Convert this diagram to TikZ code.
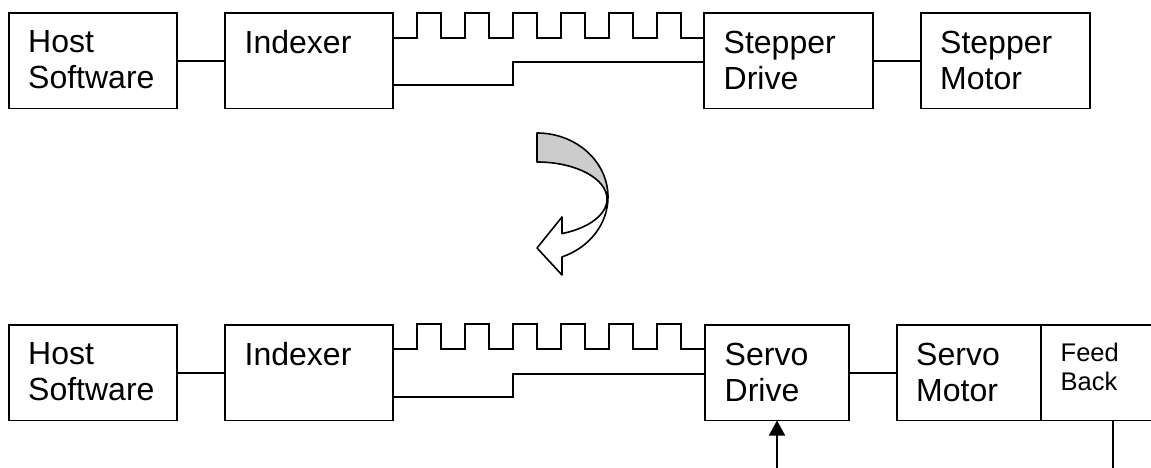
\documentclass[tikz,border=0pt]{standalone}
\usepackage{fontspec}
\setmainfont{Liberation Sans}
\usetikzlibrary{arrows.meta}
\begin{document}
\begin{tikzpicture}[x=1pt,y=-1pt,
  blk/.style={draw, line width=1.8pt, minimum height=95.5pt, inner sep=0pt, outer sep=0pt, anchor=north west},
  lbl/.style={anchor=north west, inner sep=0pt, align=left, font=\fontsize{32}{36}\selectfont},
  smalllbl/.style={anchor=north west, inner sep=0pt, align=left, font=\fontsize{25.5}{29}\selectfont},
  wire/.style={line width=1.6pt},
]
\clip (0,0) rectangle (1151,468);
% ---------- top row ----------
\node[blk, minimum width=168pt] (hs1) at (9,13) {};
\node[blk, minimum width=168pt] (ix1) at (225,13) {};
\node[blk, minimum width=169pt] (sd1) at (704,13) {};
\node[blk, minimum width=169pt] (sm1) at (921,13) {};
\node[lbl] (hs1t) at ([xshift=19pt,yshift=-17.5pt]hs1.north west) {Host\\Software};
\node[lbl] (ix1t) at ([xshift=19.5pt,yshift=-17.5pt]ix1.north west) {Indexer};
\node[lbl] (sd1t) at ([xshift=19.5pt,yshift=-17.5pt]sd1.north west) {Stepper\\Drive};
\node[lbl] (sm1t) at ([xshift=19pt,yshift=-17.5pt]sm1.north west) {Stepper\\Motor};
\draw[wire] (hs1.east) -- (ix1.west);
\draw[wire] (sd1.east) -- (sm1.west);
\draw[wire] (ix1.east |- 0,38) \foreach \k in {1,...,6} { -- ++(24,0) -- ++(0,-25) -- ++(24,0) -- ++(0,25) } -- (sd1.west |- 0,38);
\draw[wire] (ix1.east |- 0,85) -- (513,85) -- (513,62) -- (sd1.west |- 0,62);
% ---------- bottom row ----------
\node[blk, minimum width=168pt] (hs2) at (9,325) {};
\node[blk, minimum width=168pt] (ix2) at (225,325) {};
\node[blk, minimum width=144pt] (sd2) at (705,325) {};
\node[blk, minimum width=144pt] (sm2) at (897,325) {};
\node[blk, minimum width=130pt] (fb2) at (1041,325) {};
\node[lbl] (hs2t) at ([xshift=19pt,yshift=-17.5pt]hs2.north west) {Host\\Software};
\node[lbl] (ix2t) at ([xshift=19.5pt,yshift=-17.5pt]ix2.north west) {Indexer};
\node[lbl] (sd2t) at ([xshift=19.5pt,yshift=-17.5pt]sd2.north west) {Servo\\Drive};
\node[lbl] (sm2t) at ([xshift=19pt,yshift=-17.5pt]sm2.north west) {Servo\\Motor};
\node[smalllbl] (fb2t) at ([xshift=19.5pt,yshift=-17.5pt]fb2.north west) {Feed\\Back};
\draw[wire] (hs2.east) -- (ix2.west);
\draw[wire] (sd2.east) -- (sm2.west);
\draw[wire] (ix2.east |- 0,349) \foreach \k in {1,...,6} { -- ++(24,0) -- ++(0,-25) -- ++(24,0) -- ++(0,25) } -- (sd2.west |- 0,349);
\draw[wire] (ix2.east |- 0,397) -- (513,397) -- (513,374) -- (sd2.west |- 0,374);
\coordinate (arrin) at (777,468);
\draw[wire, -{Triangle[width=16pt,length=15pt]}] (arrin) -- (sd2.south);
\coordinate (fbout) at (1113,468);
\draw[wire] ([xshift=72pt]fb2.south west) -- (fbout);
% ---------- curved arrow ----------
\begin{scope}[shift={(537,197)}, y=1pt, line width=1.6pt, line join=round]
  \filldraw[fill=gray!40] (0,64) arc[start angle=90, end angle=0, x radius=71, y radius=64]
     -- (70,-2) arc[start angle=0, end angle=90, x radius=70, y radius=37] -- cycle;
  \filldraw[fill=white] (71,0) arc[start angle=0, end angle=-69.4, x radius=71, y radius=64]
     -- (25,-78) -- (0,-51) -- (25,-20) -- (25,-36.6)
     arc[start angle=-69.1, end angle=0, x radius=70, y radius=37] -- cycle;
\end{scope}
\end{tikzpicture}
\end{document}
